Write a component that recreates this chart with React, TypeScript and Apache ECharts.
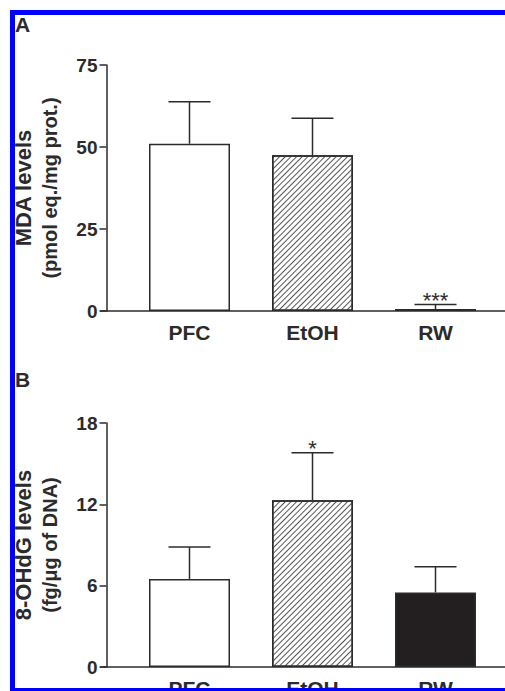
import React, { useEffect, useRef } from "react";
import * as echarts from "echarts";

const categories = ["PFC", "EtOH", "RW"];
const mdaMean = [51, 47.5, 0.6];
const mdaSem = [12.8, 11.3, 1.4];
const mdaSig = ["", "", "***"];
const ohdgMean = [6.5, 12.3, 5.5];
const ohdgSem = [2.35, 3.5, 1.9];
const ohdgSig = ["", "*", ""];
const mdaTicks = { min: 0, max: 75, interval: 25 };
const ohdgTicks = { min: 0, max: 18, interval: 6 };

const FONT = "'Liberation Sans', Arial, sans-serif";
const INK = "#2b2b2b";
const fills = ["#ffffff", "#ffffff", "#231f20"];
const hatched = [false, true, false];

function barData(values: number[]) {
  return values.map((v, i) => ({
    value: v,
    itemStyle: {
      color: fills[i],
      borderColor: INK,
      borderWidth: 1.5,
      decal: hatched[i]
        ? {
            symbol: "rect",
            symbolSize: 1,
            dashArrayX: [1, 0],
            dashArrayY: [1, 2.5],
            rotation: -Math.PI / 4,
            color: "#555",
          }
        : "none",
    },
  }));
}

function errData(means: number[], sems: number[], sig: string[]) {
  return means.map((m, i) => [i, m, m + sems[i], sig[i]]);
}

const renderErr = (params: any, api: any) => {
  const idx = api.value(0);
  const base = api.coord([idx, api.value(1)]);
  const top = api.coord([idx, api.value(2)]);
  const label = api.value(3);
  const half = 21;
  const children: any[] = [
    {
      type: "line",
      shape: { x1: base[0], y1: base[1], x2: top[0], y2: top[1] },
      style: { stroke: INK, lineWidth: 1.5 },
    },
    {
      type: "line",
      shape: { x1: top[0] - half, y1: top[1], x2: top[0] + half, y2: top[1] },
      style: { stroke: INK, lineWidth: 1.5 },
    },
  ];
  if (label) {
    children.push({
      type: "text",
      style: {
        text: label,
        x: top[0],
        y: top[1] - 4,
        textAlign: "center",
        textVerticalAlign: "middle",
        fontSize: 22,
        fontFamily: FONT,
        fill: INK,
      },
    });
  }
  return { type: "group", children };
};

function yAxisOpt(gridIndex: number, name: string[], t: any, nameGap: number) {
  return {
    gridIndex,
    type: "value",
    min: t.min,
    max: t.max,
    interval: t.interval,
    offset: 21.5,
    name: `{a|${name[0]}}\n{b|${name[1]}}`,
    nameLocation: "middle",
    nameRotate: 90,
    nameGap,
    nameTextStyle: {
      rich: {
        a: { fontSize: 22, fontWeight: "bold", fontFamily: FONT, color: INK, lineHeight: 26 },
        b: { fontSize: 20, fontWeight: "bold", fontFamily: FONT, color: INK, lineHeight: 26 },
      },
    },
    axisLine: { show: true, lineStyle: { color: INK, width: 1.5 } },
    axisTick: { show: true, length: 7, lineStyle: { color: INK, width: 1.5 } },
    axisLabel: { fontSize: 19, fontWeight: "bold", fontFamily: FONT, color: INK, margin: 9 },
    splitLine: { show: false },
  };
}

function xAxisOpt(gridIndex: number) {
  return {
    gridIndex,
    type: "category",
    data: categories,
    axisLine: { show: false },
    axisTick: { show: false },
    axisLabel: { fontSize: 21, fontWeight: "bold", fontFamily: FONT, color: INK, margin: 11 },
  };
}

export default function App() {
  const ref = useRef<HTMLDivElement>(null);
  useEffect(() => {
    document.body.style.margin = "0";
    const chart = echarts.init(ref.current!, null, { renderer: "svg" });
    chart.setOption({
      animation: false,
      backgroundColor: "#ffffff",
      grid: [
        { left: 128, top: 65, width: 369, height: 246, outerBoundsMode: "none", containLabel: false },
        { left: 128, top: 423, width: 369, height: 244, outerBoundsMode: "none", containLabel: false },
      ],
      xAxis: [xAxisOpt(0), xAxisOpt(1)],
      yAxis: [
        yAxisOpt(0, ["MDA levels", "(pmol eq./mg prot.)"], mdaTicks, 44),
        yAxisOpt(1, ["8-OHdG levels", "(fg/μg of DNA)"], ohdgTicks, 44),
      ],
      series: [
        {
          type: "bar",
          xAxisIndex: 0,
          yAxisIndex: 0,
          barWidth: 81,
          data: barData(mdaMean),
        },
        {
          type: "custom",
          xAxisIndex: 0,
          yAxisIndex: 0,
          renderItem: renderErr,
          data: errData(mdaMean, mdaSem, mdaSig),
          z: 5,
        },
        {
          type: "bar",
          xAxisIndex: 1,
          yAxisIndex: 1,
          barWidth: 81,
          data: barData(ohdgMean),
        },
        {
          type: "custom",
          xAxisIndex: 1,
          yAxisIndex: 1,
          renderItem: renderErr,
          data: errData(ohdgMean, ohdgSem, ohdgSig),
          z: 5,
        },
      ],
      graphic: [
        {
          type: "line",
          shape: { x1: 100, y1: 311, x2: 505, y2: 311 },
          style: { stroke: INK, lineWidth: 1.5 },
          z: 10,
        },
        {
          type: "line",
          shape: { x1: 100, y1: 667, x2: 505, y2: 667 },
          style: { stroke: INK, lineWidth: 1.5 },
          z: 10,
        },
        {
          type: "text",
          x: 15,
          y: 14,
          style: { text: "A", fontSize: 21, fontWeight: "bold", fontFamily: FONT, fill: INK },
          z: 10,
        },
        {
          type: "text",
          x: 15,
          y: 369,
          style: { text: "B", fontSize: 21, fontWeight: "bold", fontFamily: FONT, fill: INK },
          z: 10,
        },
        {
          type: "rect",
          shape: { x: 12.5, y: 12.5, width: 520, height: 678 },
          style: { fill: "none", stroke: "#0000ff", lineWidth: 5 },
          z: 100,
        },
      ],
    });
    return () => chart.dispose();
  }, []);
  return <div ref={ref} style={{ width: 505, height: 691 }} />;
}
